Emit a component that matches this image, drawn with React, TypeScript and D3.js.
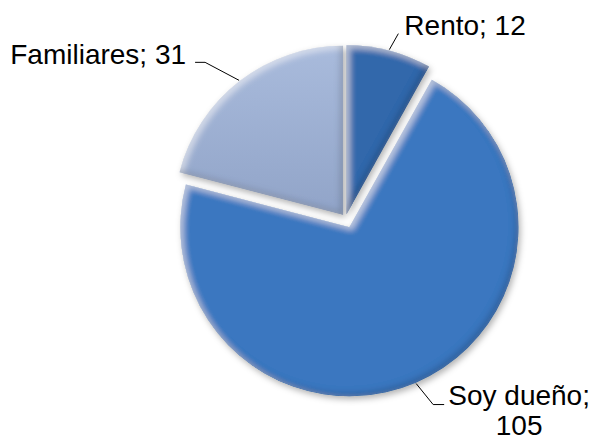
import React from "react";
import * as d3 from "d3";

const categories = ["Rento", "Soy dueño", "Familiares"];
const values = [12, 105, 31];
const labelLines = [["Rento; 12"], ["Soy dueño;", "105"], ["Familiares; 31"]];

const W = 592;
const H = 441;
const CX = 345.5;
const CY = 218;
const R = 169;
const explode = [4, 10, 4];
const colors = ["#3267ab", "#3b77c0", "url(#famGrad)"];
// leader layout: elbow offset from arc point, horizontal run, label anchor/offset
const leaderLayout = [
  { ex: 9, ey: -16, run: 0, anchor: "start", dx: 6, dy: 1, lineH: 0 },
  { ex: 17, ey: 21, run: 11, anchor: "middle", dx: 75, dy: 0, lineH: 30 },
  { ex: -34, ey: -18, run: -10, anchor: "end", dx: -9, dy: 2, lineH: 0 },
];

export default function App() {
  const pie = d3.pie<number>().sort(null).value((d) => d)(values);
  const arc = d3.arc<d3.PieArcDatum<number>>().innerRadius(0).outerRadius(R);

  const items = pie.map((p, i) => {
    const mid = (p.startAngle + p.endAngle) / 2;
    const ux = Math.sin(mid);
    const uy = -Math.cos(mid);
    const ox = CX + ux * explode[i];
    const oy = CY + uy * explode[i];
    const L = leaderLayout[i];
    const p0 = [ox + ux * (R + 1), oy + uy * (R + 1)];
    const p1 = [p0[0] + L.ex, p0[1] + L.ey];
    const p2 = [p1[0] + L.run, p1[1]];
    return { p, i, ox, oy, p0, p1, p2, L };
  });

  return (
    <svg width={W} height={H} style={{ position: "absolute", left: 0, top: 0 }}>
      <defs>
        <linearGradient id="famGrad" x1="0" y1="0" x2="0" y2="1">
          <stop offset="0" stopColor="#a9bbdc" />
          <stop offset="1" stopColor="#91a4c8" />
        </linearGradient>
        <filter id="shadow" x="-20%" y="-20%" width="140%" height="140%">
          <feGaussianBlur in="SourceAlpha" stdDeviation="3" result="b" />
          <feOffset in="b" dx="2" dy="3" result="o" />
          <feFlood floodColor="#000" floodOpacity="0.3" />
          <feComposite in2="o" operator="in" />
        </filter>
        <filter id="bevel" x="-10%" y="-10%" width="120%" height="120%">
          <feGaussianBlur in="SourceAlpha" stdDeviation="3" result="blur" />
          <feOffset in="blur" dx="3" dy="3" result="offTL" />
          <feComposite in="SourceAlpha" in2="offTL" operator="arithmetic" k1="0" k2="1" k3="-1" k4="0" result="rimTL" />
          <feFlood floodColor="#ffffff" floodOpacity="0.5" result="white" />
          <feComposite in="white" in2="rimTL" operator="in" result="hl" />
          <feOffset in="blur" dx="-3" dy="-3" result="offBR" />
          <feComposite in="SourceAlpha" in2="offBR" operator="arithmetic" k1="0" k2="1" k3="-1" k4="0" result="rimBR" />
          <feFlood floodColor="#000000" floodOpacity="0.35" result="black" />
          <feComposite in="black" in2="rimBR" operator="in" result="sh" />
          <feMerge>
            <feMergeNode in="SourceGraphic" />
            <feMergeNode in="hl" />
            <feMergeNode in="sh" />
          </feMerge>
        </filter>
      </defs>
      <g filter="url(#shadow)">
        {items.map((it) => (
          <path key={"s" + it.i} d={arc(it.p) || ""} transform={`translate(${it.ox},${it.oy})`} fill="#000" />
        ))}
      </g>
      {items.map((it) => (
        <path
          key={"p" + it.i}
          d={arc(it.p) || ""}
          transform={`translate(${it.ox},${it.oy})`}
          fill={colors[it.i]}
          filter="url(#bevel)"
        >
          <title>{categories[it.i]}</title>
        </path>
      ))}
      {items.map((it) => (
        <polyline
          key={"l" + it.i}
          points={[it.p0, it.p1, it.p2].map((q) => q.join(",")).join(" ")}
          fill="none"
          stroke="#000"
          strokeWidth={1}
        />
      ))}
      {items.map((it) => (
        <text
          key={"t" + it.i}
          x={it.p2[0] + it.L.dx}
          y={it.p2[1] + it.L.dy}
          textAnchor={it.L.anchor}
          fontFamily="'Liberation Sans', Arial, sans-serif"
          fontSize={28}
          fill="#000"
        >
          {labelLines[it.i].map((line, k) => (
            <tspan key={k} x={it.p2[0] + it.L.dx} dy={k === 0 ? 0 : it.L.lineH}>
              {line}
            </tspan>
          ))}
        </text>
      ))}
    </svg>
  );
}
